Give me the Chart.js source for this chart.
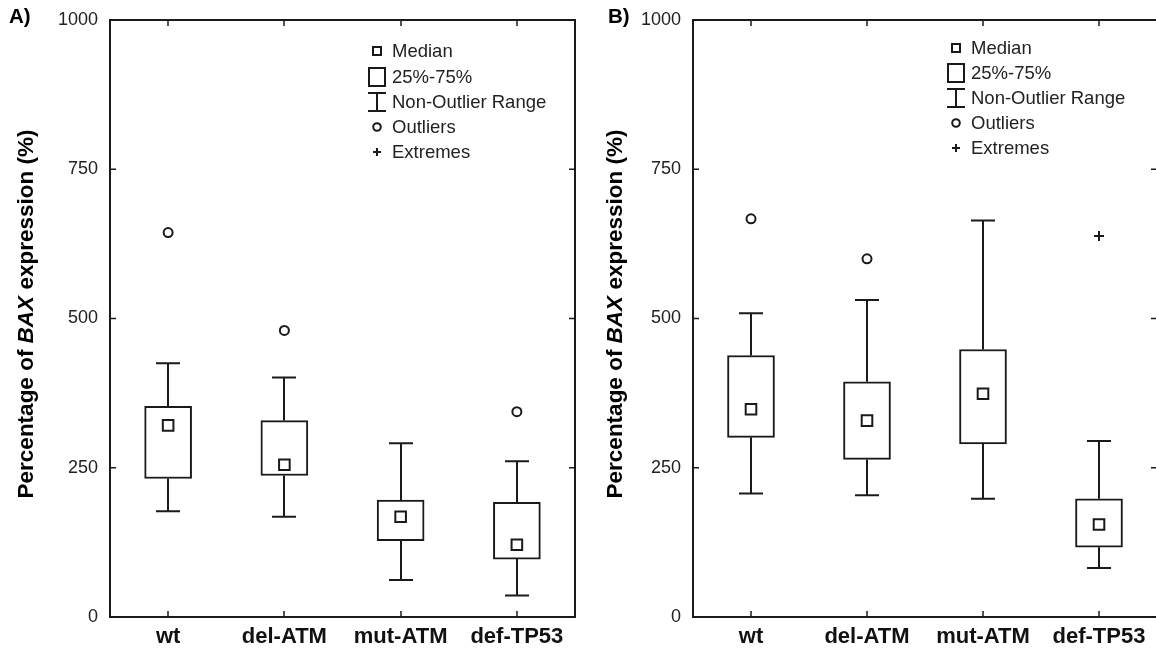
<!DOCTYPE html>
<html>
<head>
<meta charset="utf-8">
<script src="https://cdn.jsdelivr.net/npm/chart.js@4.4.1/dist/chart.umd.min.js"></script>
<style>
html,body{margin:0;padding:0;background:#fff;overflow:hidden;width:1156px;height:651px;}
#wa{position:absolute;left:0;top:0;width:578px;height:651px;}
#wb{position:absolute;left:578px;top:0;width:582px;height:651px;}
</style>
</head>
<body>
<div id="wa"><canvas id="ca"></canvas></div>
<div id="wb"><canvas id="cb"></canvas></div>
<script>
// ---------- data ----------
const categories = ['wt', 'del-ATM', 'mut-ATM', 'def-TP53'];
const yTicks = [0, 250, 500, 750, 1000];
const legendLabels = ['Median', '25%-75%', 'Non-Outlier Range', 'Outliers', 'Extremes'];
const yTitleParts = ['Percentage of ', 'BAX', ' expression (%)'];
const panelLabels = ['A)', 'B)'];

// Panel A
const aWhiskerLow  = [177, 168, 62, 36];
const aQ1          = [232, 237, 128, 97];
const aMedian      = [321, 255, 168, 121];
const aQ3          = [353, 329, 196, 192];
const aWhiskerHigh = [425, 401, 291, 261];
const aOutliers    = [644, 480, null, 344];
const aExtremes    = [null, null, null, null];

// Panel B
const bWhiskerLow  = [207, 204, 198, 82];
const bQ1          = [301, 264, 290, 117];
const bMedian      = [348, 329, 374, 155];
const bQ3          = [438, 394, 448, 198];
const bWhiskerHigh = [509, 531, 664, 295];
const bOutliers    = [667, 600, null, null];
const bExtremes    = [null, null, null, 638];

// ---------- styling ----------
const FONT = "'Liberation Sans', Arial, Helvetica, sans-serif";
const INK = '#1a1a1a';

const whiskerPlugin = {
  id: 'whiskers',
  beforeDatasetsDraw(chart, args, o) {
    const {ctx, scales: {x, y}} = chart;
    ctx.save();
    ctx.strokeStyle = INK;
    ctx.lineWidth = 2;
    ctx.beginPath();
    o.low.forEach((lo, i) => {
      const px = Math.round(x.getPixelForValue(i));
      const yl = y.getPixelForValue(lo), yq1 = y.getPixelForValue(o.q1[i]);
      const yq3 = y.getPixelForValue(o.q3[i]), yh = y.getPixelForValue(o.high[i]);
      ctx.moveTo(px, yl); ctx.lineTo(px, yq1);
      ctx.moveTo(px, yq3); ctx.lineTo(px, yh);
      ctx.moveTo(px - o.cap / 2, yl); ctx.lineTo(px + o.cap / 2, yl);
      ctx.moveTo(px - o.cap / 2, yh); ctx.lineTo(px + o.cap / 2, yh);
    });
    ctx.stroke();
    ctx.restore();
  }
};

const framePlugin = {
  id: 'frame',
  afterDatasetsDraw(chart) {
    const {ctx, chartArea: a, scales: {x, y}} = chart;
    ctx.save();
    ctx.strokeStyle = INK;
    ctx.lineWidth = 2;
    ctx.strokeRect(a.left, a.top, a.right - a.left, a.bottom - a.top);
    ctx.lineWidth = 1.5;
    ctx.beginPath();
    yTicks.forEach(v => {
      const py = y.getPixelForValue(v);
      ctx.moveTo(a.left, py); ctx.lineTo(a.left + 6, py);
      ctx.moveTo(a.right, py); ctx.lineTo(a.right - 6, py);
    });
    categories.forEach((c, i) => {
      const px = Math.round(x.getPixelForValue(i));
      ctx.moveTo(px, a.top); ctx.lineTo(px, a.top + 6);
      ctx.moveTo(px, a.bottom); ctx.lineTo(px, a.bottom - 6);
    });
    ctx.stroke();
    ctx.restore();
  }
};

const decorPlugin = {
  id: 'decor',
  afterDraw(chart, args, o) {
    const {ctx} = chart;
    ctx.save();
    // panel letter
    ctx.fillStyle = '#000';
    ctx.font = `bold 20.5px ${FONT}`;
    ctx.textBaseline = 'middle';
    ctx.textAlign = 'left';
    ctx.fillText(o.letter, o.letterX, 17);
    // y title with italic BAX
    const fonts = [`bold 22.5px ${FONT}`, `italic bold 22.5px ${FONT}`, `bold 22.5px ${FONT}`];
    const widths = yTitleParts.map((t, i) => { ctx.font = fonts[i]; return ctx.measureText(t).width; });
    const total = widths.reduce((s, w) => s + w, 0);
    ctx.translate(o.titleX, o.titleY);
    ctx.rotate(-Math.PI / 2);
    let cx = -total / 2;
    yTitleParts.forEach((t, i) => { ctx.font = fonts[i]; ctx.fillText(t, cx, 0); cx += widths[i]; });
    ctx.setTransform(1, 0, 0, 1, 0, 0);
    ctx.restore();
    // legend
    ctx.save();
    ctx.strokeStyle = INK;
    ctx.fillStyle = '#222';
    ctx.lineWidth = 2;
    ctx.font = `18.5px ${FONT}`;
    ctx.textBaseline = 'middle';
    ctx.textAlign = 'left';
    const ix = o.legendX;
    const rows = o.legendRows;
    legendLabels.forEach((t, i) => {
      const cy = rows[i];
      ctx.beginPath();
      if (i === 0) {
        ctx.rect(ix - 4, cy - 4, 8, 8);
      } else if (i === 1) {
        ctx.rect(ix - 8, cy - 9, 16, 18);
      } else if (i === 2) {
        ctx.moveTo(ix - 9, cy - 9); ctx.lineTo(ix + 9, cy - 9);
        ctx.moveTo(ix, cy - 9); ctx.lineTo(ix, cy + 9);
        ctx.moveTo(ix - 9, cy + 9); ctx.lineTo(ix + 9, cy + 9);
      } else if (i === 3) {
        ctx.arc(ix, cy, 3.8, 0, Math.PI * 2);
      } else {
        ctx.moveTo(ix - 4, cy); ctx.lineTo(ix + 4, cy);
        ctx.moveTo(ix, cy - 4); ctx.lineTo(ix, cy + 4);
      }
      ctx.stroke();
      ctx.fillText(t, ix + 15, cy + 1);
    });
    ctx.restore();
  }
};

function makeChart(id, d, layout) {
  return new Chart(document.getElementById(id), {
    type: 'bar',
    data: {
      labels: categories,
      datasets: [
        {
          type: 'line', label: 'Median', data: d.median, showLine: false, order: 0,
          pointStyle: 'rect', pointRadius: 7.5, pointBackgroundColor: '#fff',
          pointBorderColor: INK, pointBorderWidth: 2
        },
        {
          type: 'line', label: 'Outliers', data: d.outliers, showLine: false, order: 1,
          pointStyle: 'circle', pointRadius: 4.5, pointBackgroundColor: '#fff',
          pointBorderColor: INK, pointBorderWidth: 2
        },
        {
          type: 'line', label: 'Extremes', data: d.extremes, showLine: false, order: 2,
          pointStyle: 'cross', pointRadius: 5, pointBorderColor: INK, pointBorderWidth: 2
        },
        {
          type: 'bar', label: '25%-75%', order: 3,
          data: d.q1.map((v, i) => [v, d.q3[i]]),
          backgroundColor: '#fff', borderColor: INK, borderWidth: 2, borderSkipped: false,
          barThickness: 47
        }
      ]
    },
    options: {
      responsive: true,
      maintainAspectRatio: false,
      animation: false,
      events: [],
      layout: {autoPadding: false, padding: {top: 20, right: layout.padRight, left: 0, bottom: 0}},
      scales: {
        x: {
          offset: true,
          grid: {display: false, drawTicks: false},
          border: {display: false},
          ticks: {font: {family: FONT, size: 22, weight: 'bold'}, color: '#111', padding: 7, maxRotation: 0},
          afterFit(s) { s.height = 34; s.paddingLeft = 0; s.paddingRight = 0; }
        },
        y: {
          min: 0, max: 1000,
          afterBuildTicks(s) { s.ticks = yTicks.map(v => ({value: v})); },
          grid: {display: false, drawTicks: false},
          border: {display: false},
          ticks: {font: {family: FONT, size: 18}, color: '#222', padding: 12, callback: v => String(v)},
          afterFit(s) { s.width = layout.yWidth; s.paddingTop = 0; s.paddingBottom = 0; }
        }
      },
      plugins: {
        legend: {display: false},
        tooltip: {enabled: false},
        whiskers: {low: d.low, q1: d.q1, q3: d.q3, high: d.high, cap: 24},
        decor: {
          letter: layout.letter, letterX: layout.letterX,
          titleX: layout.titleX, titleY: 314,
          legendX: layout.legendX, legendRows: layout.legendRows
        }
      }
    },
    plugins: [whiskerPlugin, framePlugin, decorPlugin]
  });
}

makeChart('ca', {
  low: aWhiskerLow, q1: aQ1, median: aMedian, q3: aQ3, high: aWhiskerHigh,
  outliers: aOutliers, extremes: aExtremes
}, {
  padRight: 3, yWidth: 110, letter: panelLabels[0], letterX: 9, titleX: 27,
  legendX: 377, legendRows: [51, 77, 102, 127, 152]
});

makeChart('cb', {
  low: bWhiskerLow, q1: bQ1, median: bMedian, q3: bQ3, high: bWhiskerHigh,
  outliers: bOutliers, extremes: bExtremes
}, {
  padRight: 3, yWidth: 115, letter: panelLabels[1], letterX: 30, titleX: 38,
  legendX: 378, legendRows: [48, 73, 98, 123, 148]
});
</script>
</body>
</html>
